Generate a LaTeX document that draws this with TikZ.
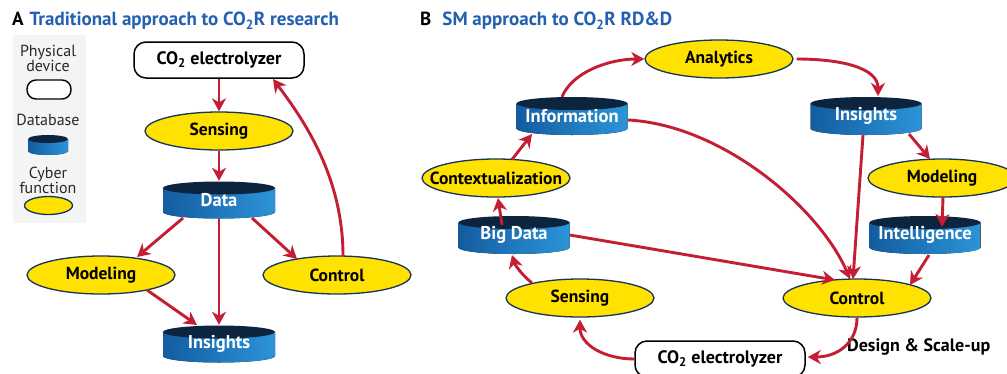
\documentclass[tikz,border=0pt]{standalone}
\usepackage{fontspec}
\setmainfont{PT Sans}
\usetikzlibrary{arrows.meta,calc,shapes.geometric}
\definecolor{arr}{RGB}{196,30,52}
\definecolor{ylw}{RGB}{255,226,0}
\definecolor{navy}{RGB}{22,52,88}
\definecolor{dbtop}{RGB}{12,36,62}
\definecolor{dbL}{RGB}{20,92,160}
\definecolor{dbR}{RGB}{44,148,216}
\definecolor{ttl}{RGB}{36,96,178}
\definecolor{lgd}{RGB}{243,245,245}
\definecolor{lgtxt}{RGB}{40,40,40}
\tikzset{
  cyber/.style={ellipse, draw=navy, line width=1.3pt, fill=ylw, minimum width=148pt,
    minimum height=38pt, inner sep=0pt, font=\bfseries\fontsize{17.5}{17.5}\selectfont},
  device/.style={rectangle, rounded corners=12pt, draw=black, line width=1.5pt, fill=white,
    minimum width=170pt, minimum height=36pt, inner sep=0pt, font=\bfseries\fontsize{18}{18}\selectfont},
  dbnode/.style={rectangle, minimum width=111pt, minimum height=38pt, inner sep=0pt,
    text=white, font=\bfseries\fontsize{18.5}{18.5}\selectfont},
  flow/.style={draw=arr, line width=2.9pt, -{Stealth[length=13pt,width=14pt,inset=4pt]}},
  titletext/.style={anchor=west, inner sep=0pt, font=\bfseries\fontsize{19}{19}\selectfont},
  legendtext/.style={align=center, inner sep=0pt, text=lgtxt, font=\fontsize{16}{15}\selectfont},
}
% cylinder drawing: x, y, half width, half height, top radius
\newcommand\dbshape[5]{%
  \fill[left color=dbL, right color=dbR] (#1-#3, #2-#4+#5) -- (#1-#3, #2+#4-#5)
    arc[start angle=180, end angle=360, x radius=#3pt, y radius=#5pt] -- (#1+#3, #2-#4+#5) -- cycle;
  \fill[dbtop] (#1, #2-#4+#5) ellipse[x radius=#3pt, y radius=#5pt];
}
\newcommand\ctext[1]{\makebox[0pt]{#1}}
\begin{document}
\begin{tikzpicture}[x=1pt, y=-1pt]
\useasboundingbox (0,0) rectangle (1007,373);
\clip (0,0) rectangle (1007,373);
\fill[white] (0,0) rectangle (1007,373);

% ---------------- Panel A ----------------
\node[titletext] (tA) at (12,21) {A\hspace{6pt}\textcolor{ttl}{Traditional approach to CO\textsubscript{2}R research}};

% legend
\fill[lgd] (13,35) rectangle (86,223);
\node[legendtext] (lg1) at (48,58) {Physical\\device};
\draw[black, line width=1.4pt, fill=white, rounded corners=9pt] (27,80) rectangle (71,99);
\node[legendtext] (lg2) at (48,120) {Database};
\dbshape{48}{145}{20}{10}{4}
\node[legendtext] (lg3) at (48,180) {Cyber\\function};
\draw[navy, line width=1.3pt, fill=ylw] (48.5,205.5) ellipse[x radius=24pt, y radius=9pt];

\node[device] (elA) at (219,60) {CO\textsubscript{2} electrolyzer};
\node[cyber] (senA) at (219,131) {\ctext{Sensing}};
\dbshape{219}{200}{56}{18.5}{6.5}
\node[dbnode] (dataA) at (219,200) {\raisebox{-3pt}{Data}};
\node[cyber] (modA) at (101,275) {\ctext{Modeling}};
\node[cyber] (ctrlA) at (337,275) {\ctext{Control}};
\dbshape{219}{344}{56}{18.5}{6.5}
\node[dbnode] (insA) at (219,344) {\raisebox{-3pt}{Insights}};

\draw[flow] (elA.south) -- (senA.north);
\draw[flow] (senA.south) -- (dataA.north);
\draw[flow] ($(dataA)+(-36,18)$) -- ($(modA)+(36,-18)$);
\draw[flow] (dataA.south) -- (insA.north);
\draw[flow] ($(dataA)+(33,18)$) -- ($(ctrlA)+(-40,-16)$);
\draw[flow] ($(modA)+(46,15)$) -- ($(insA)+(-22,-19)$);
\draw[flow] ($(ctrlA)+(6,-19)$) .. controls +(0,-80) and +(30,40) .. ($(elA)+(54,19)$);

% ---------------- Panel B ----------------
\node[titletext] (tB) at (420,21) {B\hspace{11pt}\textcolor{ttl}{SM approach to CO\textsubscript{2}R RD\&D}};

\node[cyber] (anaB) at (719,59) {\ctext{Analytics}};
\dbshape{572}{116}{55.5}{19}{6.5}
\node[dbnode] (infoB) at (572,116) {\raisebox{-3pt}{Information}};
\dbshape{866}{116}{55.5}{19}{6.5}
\node[dbnode] (insB) at (866,116) {\raisebox{-3pt}{Insights}};
\node[cyber] (ctxB) at (496,178) {\ctext{Contextualization}};
\node[cyber] (modB) at (942,178) {\ctext{Modeling}};
\dbshape{514}{235}{55.5}{19}{6.5}
\node[dbnode] (bigB) at (514,235) {\raisebox{-3pt}{Big Data}};
\dbshape{925}{235}{55.5}{19}{6.5}
\node[dbnode] (intB) at (925,235) {\raisebox{-3pt}{Intelligence}};
\node[cyber] (senB) at (580,298) {\ctext{Sensing}};
\node[cyber] (ctrlB) at (857,298) {\ctext{Control}};
\node[device, minimum width=170pt] (elB) at (720,359) {CO\textsubscript{2} electrolyzer};
\node[inner sep=0pt, anchor=west, font=\bfseries\fontsize{18}{18}\selectfont] (dsB) at (847,347) {Design \& Scale-up};

\draw[flow] ($(infoB)+(-10,-19)$) .. controls +(10,-25) and +(-35,0) .. (anaB.west);
\draw[flow] ($(anaB.east)+(3,0)$) .. controls +(45,0) and +(0,-28) .. ($(insB)+(12,-20)$);
\draw[flow] ($(ctxB)+(16,-18.5)$) -- ($(infoB)+(-40,18)$);
\draw[flow] ($(bigB)+(-12,-10)$) -- ($(ctxB)+(2,20)$);
\draw[flow] ($(senB)+(-48,-15)$) .. controls +(-10,-8) and +(3,10) .. ($(bigB)+(-2,20)$);
\draw[flow] (elB.west) .. controls +(-30,0) and +(0,25) .. ($(senB.south)+(0,2)$);
\draw[flow] (ctrlB.south) .. controls +(0,25) and +(30,0) .. ($(elB.east)+(2,-2)$);
\draw[flow] (bigB.east) -- ($(ctrlB)+(-22,-18)$);
\draw[flow] ($(infoB)+(56,4)$) .. controls +(95,5) and +(-30,-70) .. ($(ctrlB)+(-7,-19)$);
\draw[flow] ($(insB)+(-3,19)$) -- ($(ctrlB)+(-4,-19)$);
\draw[flow] ($(insB)+(43,18)$) -- ($(modB)+(-12,-19)$);
\draw[flow] ($(modB)+(1,19)$) -- ($(intB)+(17,-8)$);
\draw[flow] ($(intB)+(4,20)$) -- ($(ctrlB)+(53,-13)$);
\end{tikzpicture}
\end{document}
